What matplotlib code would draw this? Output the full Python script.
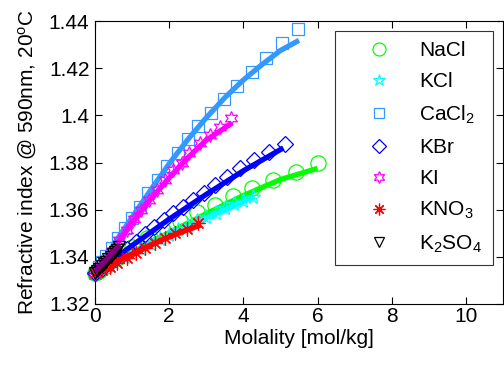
import matplotlib
matplotlib.use('Agg')
import matplotlib.pyplot as plt
from matplotlib.lines import Line2D

plt.rcParams['font.family'] = ['Liberation Sans', 'DejaVu Sans']
plt.rcParams['mathtext.fontset'] = 'custom'
plt.rcParams['mathtext.rm'] = 'Liberation Sans'
plt.rcParams['mathtext.it'] = 'Liberation Sans:italic'
plt.rcParams['mathtext.bf'] = 'Liberation Sans:bold'

# measured points (molality, refractive index)
nacl_m = [0, 0.1, 0.3, 0.6, 1.0, 1.4, 1.83, 2.3, 2.74, 3.23, 3.71, 4.23, 4.8, 5.41, 6.02]
nacl_n = [1.3330, 1.3340, 1.3360, 1.3395, 1.3440, 1.3480, 1.3514, 1.3552, 1.3588,
          1.3620, 1.3658, 1.3694, 1.3726, 1.3760, 1.3798]
kcl_m = [0, 0.2, 0.4, 0.6, 0.8, 1.0, 1.25, 1.5, 1.75, 2.0, 2.25, 2.5, 2.75, 3.0,
         3.25, 3.5, 3.75, 4.0, 4.25]
kcl_n = [1.3330, 1.3347, 1.3364, 1.3381, 1.3398, 1.3414, 1.3435, 1.3455, 1.3475,
         1.3494, 1.3513, 1.3532, 1.3551, 1.3569, 1.3587, 1.3605, 1.3622, 1.3638, 1.3655]
cacl2_m = [0, 0.1, 0.2, 0.3, 0.46, 0.62, 0.8, 1.0, 1.21, 1.42, 1.69, 1.93, 2.23,
           2.5, 2.77, 3.14, 3.47, 3.84, 4.22, 4.62, 5.05, 5.48]
cacl2_n = [1.3330, 1.3355, 1.3380, 1.3405, 1.3437, 1.3480, 1.3522, 1.3565, 1.3610,
           1.3670, 1.3726, 1.3785, 1.3840, 1.3900, 1.3955, 1.4010, 1.4069, 1.4125,
           1.4184, 1.4243, 1.4307, 1.4366]
kbr_m = [0, 0.2, 0.4, 0.6, 0.85, 1.1, 1.35, 1.6, 1.85, 2.1, 2.37, 2.64, 2.93,
         3.23, 3.57, 3.9, 4.3, 4.7, 5.13]
kbr_n = [1.3330, 1.3350, 1.3375, 1.3400, 1.3435, 1.3465, 1.3495, 1.3525, 1.3555,
         1.3586, 1.3613, 1.3642, 1.3672, 1.3705, 1.3739, 1.3777, 1.3811, 1.3845, 1.3878]
ki_m = [0, 0.15, 0.3, 0.45, 0.65, 0.85, 1.05, 1.25, 1.45, 1.67, 1.88, 2.1, 2.34,
        2.53, 2.82, 3.09, 3.36, 3.68]
ki_n = [1.3330, 1.3360, 1.3390, 1.3425, 1.3470, 1.3515, 1.3560, 1.3600, 1.3640,
        1.3683, 1.3726, 1.3768, 1.3800, 1.3840, 1.3883, 1.3917, 1.3950, 1.3989]
kno3_m = [0, 0.2, 0.4, 0.6, 0.85, 1.1, 1.34, 1.61, 1.88, 2.15, 2.47, 2.78]
kno3_n = [1.3330, 1.3343, 1.3355, 1.3373, 1.3395, 1.3415, 1.3437, 1.3459, 1.3480,
          1.3500, 1.3518, 1.3543]
k2so4_m = [0, 0.06, 0.12, 0.18, 0.24, 0.30, 0.36, 0.42, 0.48, 0.54, 0.60, 0.66]
k2so4_n = [1.3330, 1.3340, 1.3350, 1.3360, 1.3370, 1.3380, 1.3390, 1.3400, 1.3410,
           1.3420, 1.3431, 1.3442]

# fitted curves
nacl_fm = [0, 1, 2, 3, 4, 5, 6]
nacl_fn = [1.3330, 1.3418, 1.3503, 1.3583, 1.3660, 1.3728, 1.3775]
kcl_fm = [0, 1, 2, 3, 4, 4.3]
kcl_fn = [1.3330, 1.3410, 1.3490, 1.3565, 1.3635, 1.3655]
cacl2_fm = [0, 0.5, 1, 1.5, 2, 2.5, 3, 3.5, 4, 4.5, 5, 5.5]
cacl2_fn = [1.3330, 1.3452, 1.3568, 1.3683, 1.3795, 1.3897, 1.3990, 1.4075,
            1.4150, 1.4215, 1.4275, 1.4318]
kbr_fm = [0, 1, 2, 3, 4, 5.08]
kbr_fn = [1.3330, 1.3448, 1.3560, 1.3665, 1.3765, 1.3862]
ki_fm = [0, 0.5, 1, 1.5, 2, 2.5, 3, 3.7]
ki_fn = [1.3330, 1.3435, 1.3542, 1.3645, 1.3735, 1.3820, 1.3895, 1.3968]
kno3_fm = [0, 0.5, 1, 1.5, 2, 2.5, 2.85]
kno3_fn = [1.3330, 1.3375, 1.3412, 1.3450, 1.3485, 1.3515, 1.3535]
k2so4_fm = [0, 0.66]
k2so4_fn = [1.3335, 1.3450]

labels = ['NaCl', 'KCl', r'CaCl$_2$', 'KBr', 'KI', r'KNO$_3$', r'K$_2$SO$_4$']
colors = ['#00ff00', '#00ffff', '#3399ff', '#0000ff', '#ff00ff', '#ff0000', 'k']
line_colors = ['#00ff00', '#00ffff', '#3399ff', '#0000ff', '#ff00ff', '#ff0000', '#800080']
markers = ['o', '*', 's', 'D', (6, 1, 0), (8, 2, 0), 'v']
msizes = [11, 11, 8, 8, 10, 10, 9]

pts = [(nacl_m, nacl_n), (kcl_m, kcl_n), (cacl2_m, cacl2_n), (kbr_m, kbr_n),
       (ki_m, ki_n), (kno3_m, kno3_n), (k2so4_m, k2so4_n)]
fits = [(nacl_fm, nacl_fn), (kcl_fm, kcl_fn), (cacl2_fm, cacl2_fn), (kbr_fm, kbr_fn),
        (ki_fm, ki_fn), (kno3_fm, kno3_fn), (k2so4_fm, k2so4_fn)]

fig = plt.figure(figsize=(5.04, 3.66), dpi=100)
ax = fig.add_axes([0.1885, 0.1694, 0.8095, 0.7732])

for i in range(len(labels)):
    m, n = pts[i]
    ax.plot(m, n, linestyle='none', marker=markers[i], ms=msizes[i], mfc='none',
            mec=colors[i], mew=0.9, clip_on=False, zorder=2 + i)
    fm, fn = fits[i]
    ax.plot(fm, fn, color=line_colors[i], lw=3.8, solid_capstyle='butt', zorder=2 + i)

ax.set_xlim(0, 11)
ax.set_ylim(1.32, 1.44)
ax.set_xticks([0, 2, 4, 6, 8, 10])
ax.set_yticks([1.32, 1.34, 1.36, 1.38, 1.4, 1.42, 1.44])
ax.set_yticklabels(['1.32', '1.34', '1.36', '1.38', '1.4', '1.42', '1.44'])
ax.tick_params(direction='in', top=True, right=True, length=5, width=0.8,
               labelsize=15, pad=4)
ax.tick_params(axis='x', pad=2)
for s in ax.spines.values():
    s.set_linewidth(0.8)
ax.set_xlabel('Molality [mol/kg]', fontsize=15, labelpad=2)
ax.set_ylabel(r'Refractive index @ 590nm, 20$^{\rm o}$C', fontsize=15, labelpad=7)

handles = [Line2D([], [], linestyle='none', marker=markers[i], ms=msizes[i] * 0.85,
                  mfc='none', mec=colors[i], mew=0.9) for i in range(len(labels))]
leg = ax.legend(handles, labels, loc='upper right', bbox_to_anchor=(0.975, 0.965),
                borderaxespad=0, fontsize=15, frameon=True, fancybox=False,
                borderpad=0.5, handlelength=3.2, handletextpad=0.34,
                labelspacing=0.58)
leg.get_frame().set_edgecolor('k')
leg.get_frame().set_linewidth(0.8)

fig.savefig('out.png', dpi=100)
